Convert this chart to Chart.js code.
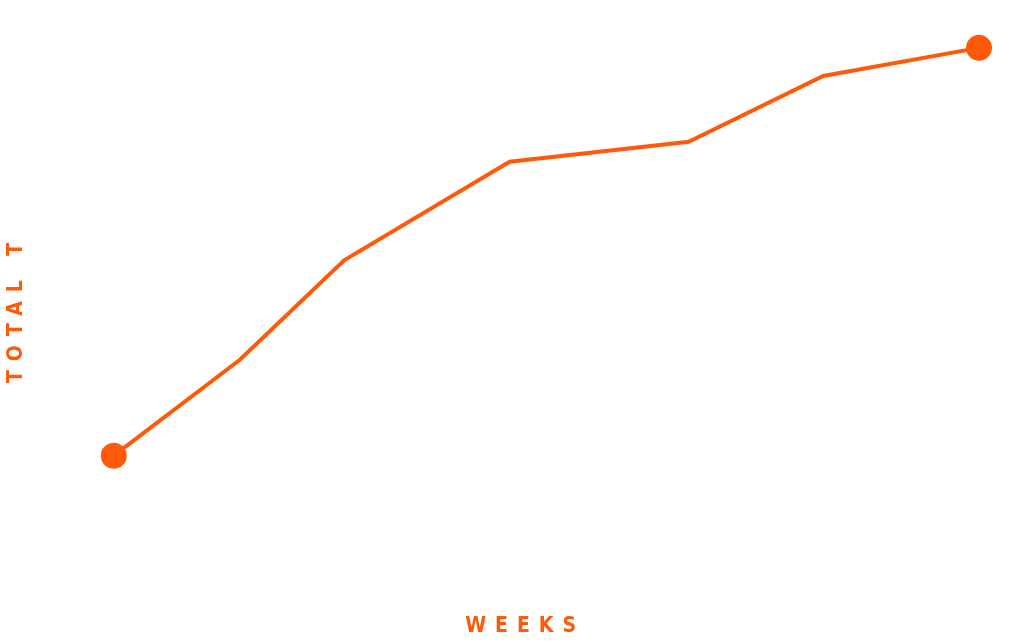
<!DOCTYPE html>
<html>
<head>
<meta charset="utf-8">
<script src="https://cdn.jsdelivr.net/npm/chart.js@4"></script>
<style>
  html, body { margin: 0; padding: 0; background: #fff; }
  #wrap { width: 1024px; height: 643px; }
</style>
</head>
<body>
<div id="wrap"><canvas id="chart"></canvas></div>
<script>
'use strict';

const ORANGE = '#ff5a0a';

const weeks = [7.5, 20.5, 31.3, 48.4, 66.9, 80.8, 96.9];
const totals = [24.9, 41.2, 58.2, 75.0, 78.4, 89.6, 94.4];
const pointSizes = [11, 0, 0, 0, 0, 0, 11];

const X_TITLE = 'WEEKS';
const Y_TITLE = 'TOTAL T';

// spread letters of the axis titles
const letterSpacing = {
  id: 'letterSpacing',
  beforeDraw: (chart) => { chart.ctx.letterSpacing = '9px'; },
  afterDatasetsDraw: (chart) => { chart.ctx.letterSpacing = '9px'; },
};

const titleFont = { family: 'DejaVu Sans Condensed', size: 21, weight: 'bold' };

new Chart(document.getElementById('chart'), {
  type: 'line',
  data: {
    datasets: [{
      data: weeks.map((w, i) => ({ x: w, y: totals[i] })),
      borderColor: ORANGE,
      backgroundColor: ORANGE,
      borderWidth: 4,
      pointRadius: pointSizes,
      pointHoverRadius: pointSizes,
      tension: 0,
    }],
  },
  plugins: [letterSpacing],
  options: {
    responsive: true,
    maintainAspectRatio: false,
    animation: false,
    layout: { padding: 0 },
    plugins: { legend: { display: false }, tooltip: { enabled: false } },
    scales: {
      x: {
        type: 'linear',
        min: 0,
        max: 100,
        grid: { display: false },
        border: { display: false },
        ticks: { display: false },
        title: { display: true, text: X_TITLE, color: ORANGE, font: titleFont, padding: 4 },
      },
      y: {
        min: 0,
        max: 100,
        grid: { display: false },
        border: { display: false },
        ticks: { display: false },
        title: { display: true, text: Y_TITLE, color: ORANGE, font: titleFont, padding: 4 },
      },
    },
  },
});
</script>
</body>
</html>
